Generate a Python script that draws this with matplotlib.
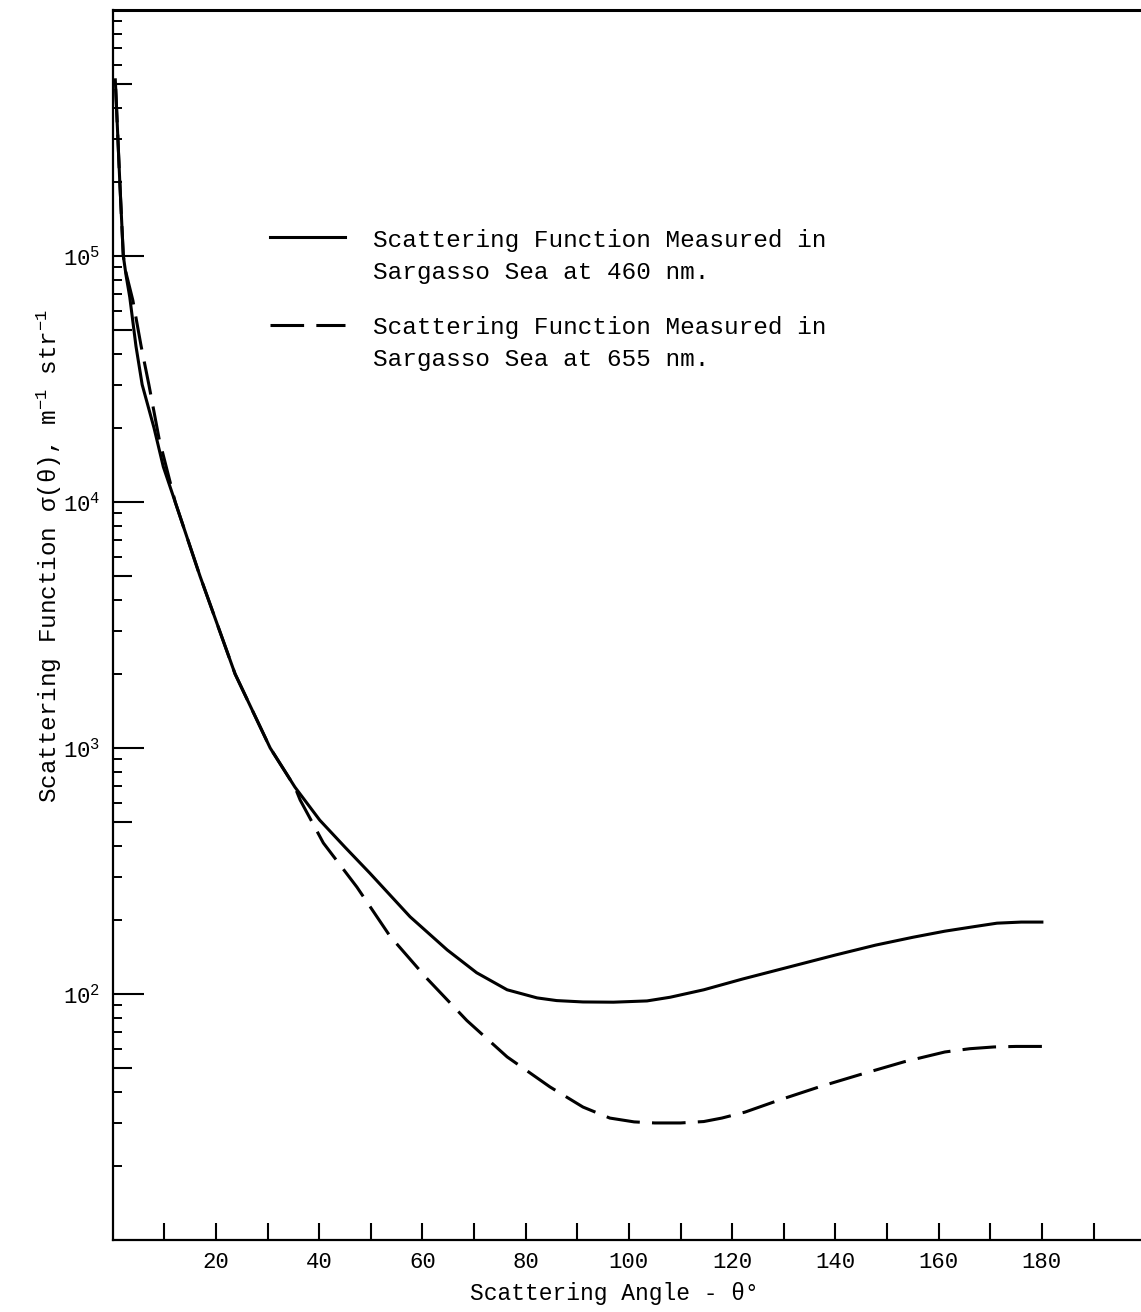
import math
import matplotlib
matplotlib.use("Agg")
import matplotlib.pyplot as plt
from matplotlib.ticker import LogLocator, NullFormatter

plt.rcParams['font.family'] = ['Liberation Mono', 'DejaVu Sans Mono']
plt.rcParams['mathtext.fontset'] = 'custom'
plt.rcParams['mathtext.rm'] = 'Liberation Mono'
plt.rcParams['mathtext.it'] = 'Liberation Mono'
plt.rcParams['mathtext.bf'] = 'Liberation Mono:bold'

# scattering function, 460 nm (solid)
theta_460 = [0.5, 1.35, 2.05, 2.6, 3.3, 4.5, 5.7, 8.0, 9.8, 12.1, 16.9, 23.7,
             30.5, 35.3, 40.1, 45.0, 49.8, 57.6, 64.8, 70.5, 76.4, 82.2, 86.0,
             91.1, 97.0, 103.5, 108.0, 114.5, 122.0, 131.2, 140.0, 147.8,
             155.0, 161.2, 167.0, 171.3, 176.0, 180.0]
sigma_460 = [5.2e5, 2.04e5, 1.0e5, 8.3e4, 6.8e4, 4.3e4, 3.0e4, 2.0e4, 1.39e4,
             1.0e4, 5.0e3, 2.0e3, 1.0e3, 693, 509, 395, 310, 206, 151, 122,
             104, 96.4, 94.0, 92.8, 92.6, 93.7, 97.0, 104, 115, 129, 144, 158,
             170, 180, 188, 194, 196, 196]

# scattering function, 655 nm (dashed)
theta_655 = [0.5, 1.35, 2.05, 2.6, 3.9, 5.5, 7.0, 9.0, 12.1, 16.9, 23.7, 30.5,
             35.3, 36.3, 40.8, 47.3, 53.7, 60.8, 68.6, 76.4, 84.7, 91.1, 96.3,
             101.0, 105.0, 110.0, 114.5, 118.0, 122.5, 129.2, 137.0, 144.6,
             153.3, 161.2, 166.0, 170.7, 175.0, 180.0]
sigma_655 = [5.2e5, 2.04e5, 1.0e5, 8.5e4, 6.6e4, 4.3e4, 3.0e4, 1.8e4, 1.0e4,
             5.0e3, 2.0e3, 1.0e3, 693, 615, 411, 272, 172, 116, 78, 55.5, 41.9,
             34.7, 31.3, 30.2, 29.9, 29.9, 30.3, 31.3, 33.1, 37.1, 42.0, 46.9,
             53.0, 58.1, 59.9, 60.9, 61.2, 61.2]

x_ticks = list(range(10, 200, 10))
x_labels = [str(t) if t % 20 == 0 and t <= 180 else '' for t in x_ticks]
y_decades = [1e2, 1e3, 1e4, 1e5]
y_fives = [5e1, 5e2, 5e3, 5e4, 5e5]

legend_lines = [
    ('Scattering Function Measured in', 'Sargasso Sea at 460 nm.'),
    ('Scattering Function Measured in', 'Sargasso Sea at 655 nm.'),
]

fig = plt.figure(figsize=(11.41, 13.12), dpi=100)
ax = fig.add_axes([0.0988, 0.0549, 0.9012, 0.9375])

dash = (0, (11, 4))
ax.plot(theta_460, sigma_460, color='black', lw=2.2, solid_joinstyle='round')
# drawn from the 180° end so the dash pattern starts there
ax.plot(theta_655[::-1], sigma_655[::-1], color='black', lw=2.2, linestyle=dash)

ax.set_yscale('log')
ax.set_xlim(0, 199.2)
ax.set_ylim(10, 1e6)

# spines
ax.spines['right'].set_visible(False)
ax.spines['left'].set_linewidth(1.6)
ax.spines['bottom'].set_linewidth(1.6)
ax.spines['top'].set_linewidth(2.2)

# x ticks point into the plot
ax.set_xticks(x_ticks)
ax.set_xticklabels(x_labels, fontsize=16)
ax.tick_params(axis='x', direction='in', length=12.5, width=1.5, pad=9)

# y ticks: long at decades, medium at 5x, short for the rest
y_major = sorted(y_decades + y_fives)
ax.set_yticks(y_major)
ax.set_yticklabels([r'$\mathrm{10^{%d}}$' % round(math.log10(v))
                    if v in y_decades else '' for v in y_major], fontsize=16)
ax.tick_params(axis='y', which='major', direction='in', width=1.5, pad=9)
for tick, v in zip(ax.yaxis.get_major_ticks(), y_major):
    tick.tick1line.set_markersize(22 if v in y_decades else 14)
ax.yaxis.set_minor_locator(LogLocator(base=10, subs=(2, 3, 4, 6, 7, 8, 9)))
ax.yaxis.set_minor_formatter(NullFormatter())
ax.tick_params(axis='y', which='minor', direction='in', length=6.5, width=1.4)

ax.set_xlabel('Scattering Angle - θ°', fontsize=16.5)
ax.xaxis.set_label_coords(0.488, -0.034)
ax.set_ylabel('Scattering Function σ(θ), m$^{-1}$ str$^{-1}$', fontsize=17.5)
ax.yaxis.set_label_coords(-0.047, 0.556)

# legend drawn in axes fraction
handle_x = (0.153, 0.226)
for (line1, line2), ls, yh in zip(legend_lines, ['-', dash], [0.8154, 0.744]):
    ax.plot(handle_x, [yh, yh], transform=ax.transAxes, color='black',
            lw=2.2, linestyle=ls, clip_on=False)
    ax.text(0.253, yh - 0.0025, line1, transform=ax.transAxes, fontsize=17.6,
            va='center', ha='left')
    ax.text(0.253, yh - 0.0285, line2, transform=ax.transAxes, fontsize=17.6,
            va='center', ha='left')

fig.savefig('out.png', dpi=100)
